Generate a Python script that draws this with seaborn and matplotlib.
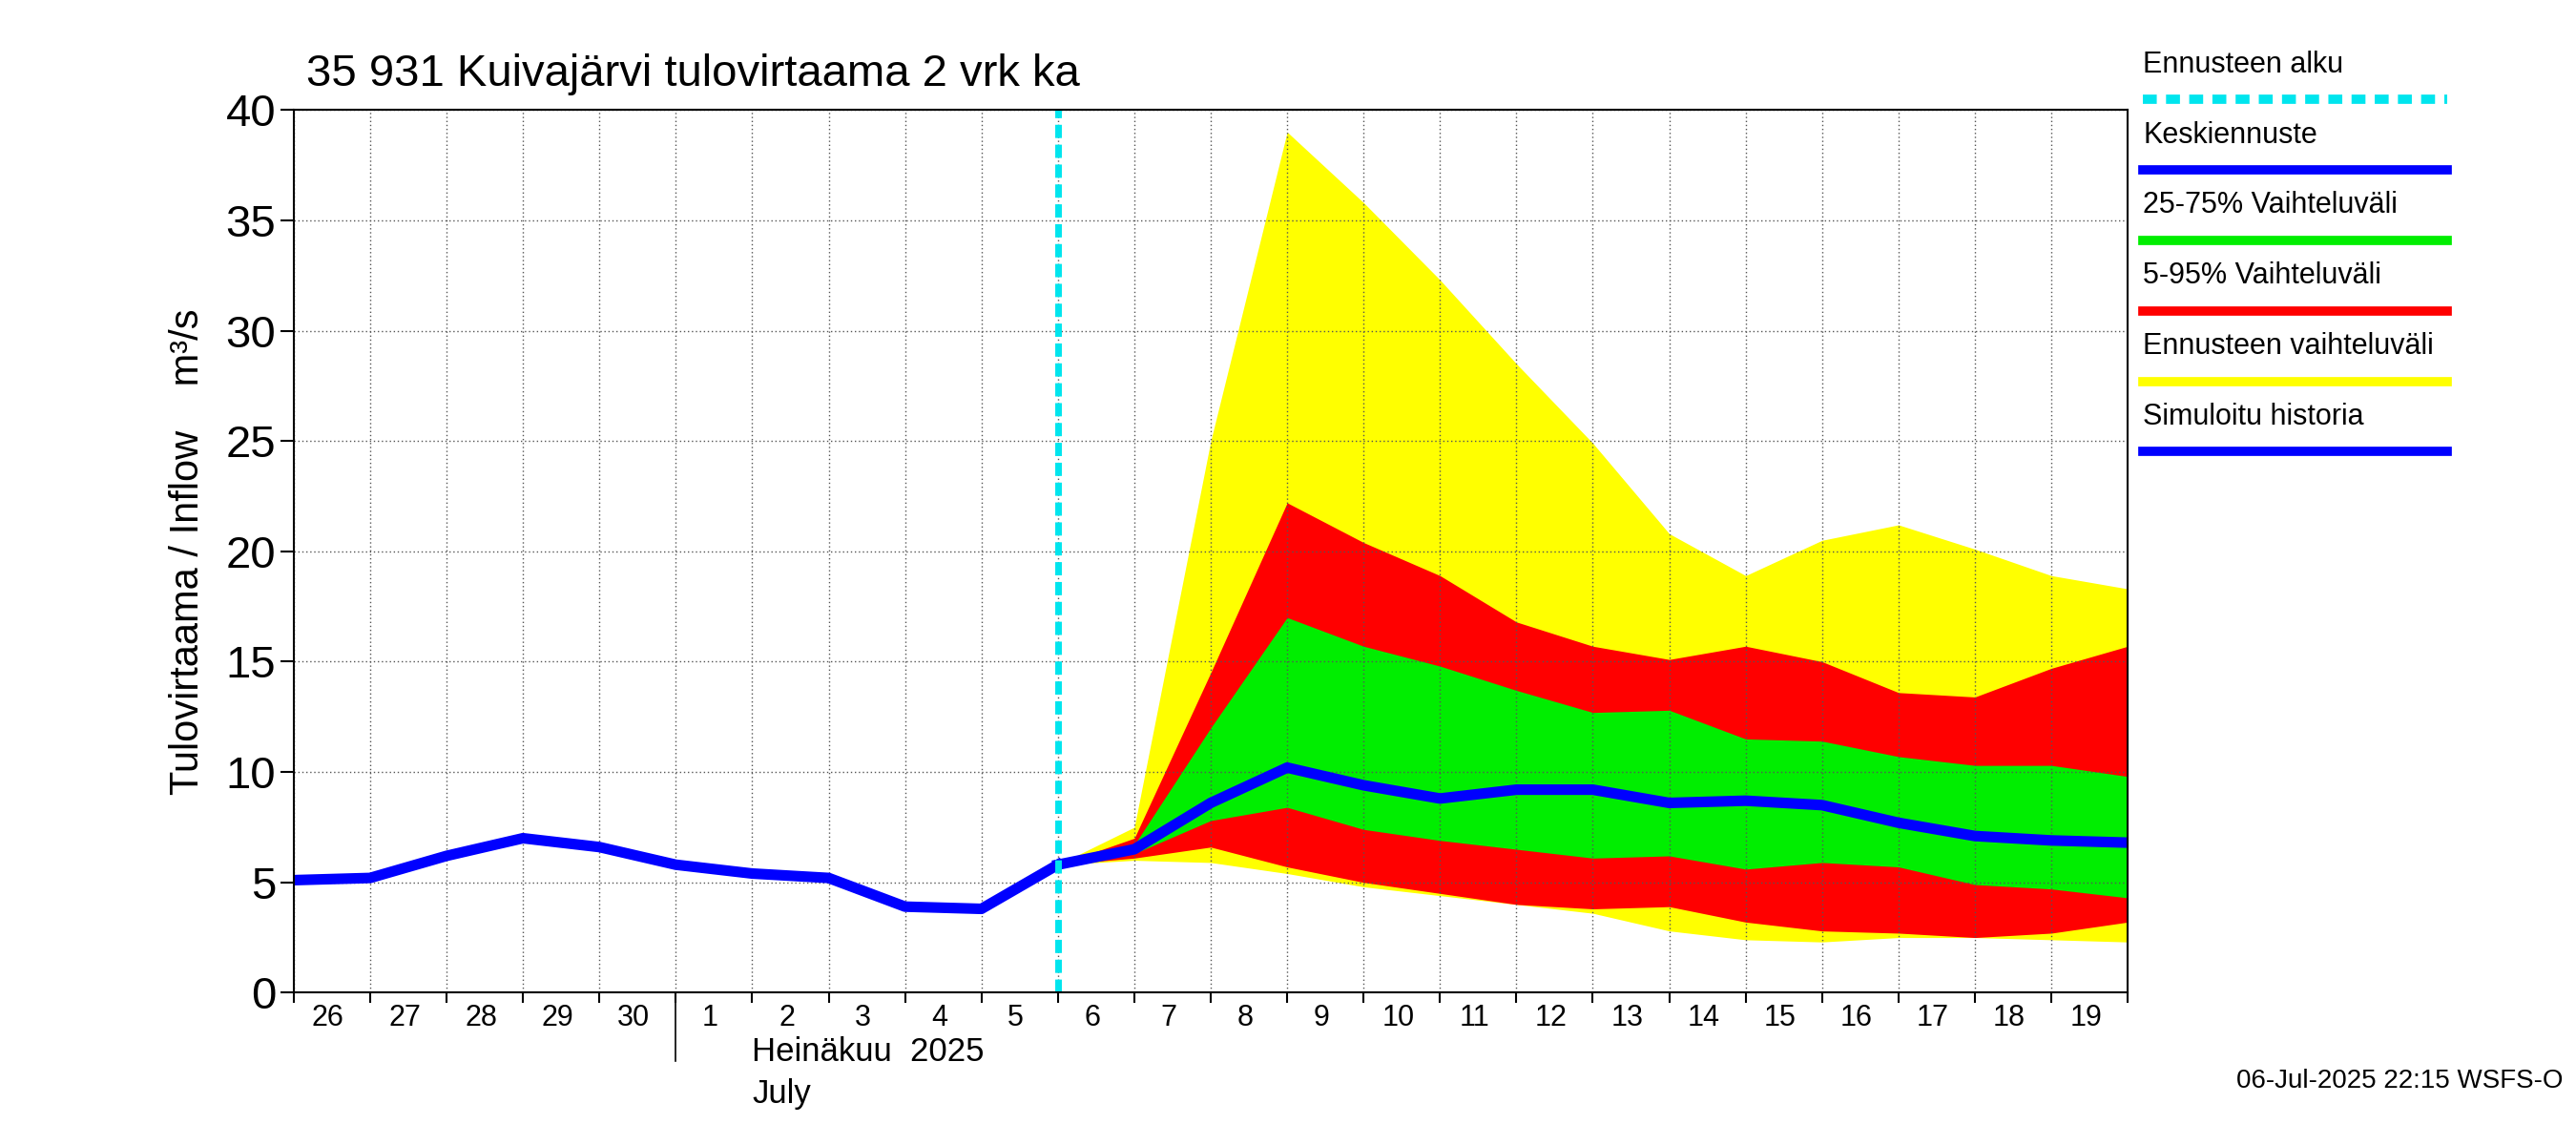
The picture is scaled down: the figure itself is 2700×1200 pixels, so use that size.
import matplotlib
matplotlib.use("Agg")
import matplotlib.pyplot as plt
import seaborn as sns

plt.rcParams["font.family"] = "Liberation Sans"

days = ["26","27","28","29","30","1","2","3","4","5","6","7","8","9","10","11","12","13","14","15","16","17","18","19"]
hist_x = list(range(0, 11))
hist_y = [5.1, 5.2, 6.2, 7.0, 6.6, 5.8, 5.4, 5.2, 3.9, 3.8, 5.8]
fc_x = list(range(10, 25))
median = [5.8, 6.5, 8.6, 10.2, 9.4, 8.8, 9.2, 9.2, 8.6, 8.7, 8.5, 7.7, 7.1, 6.9, 6.8]
yel_hi = [5.8, 7.5, 25, 39, 35.8, 32.3, 28.5, 24.9, 20.8, 18.9, 20.5, 21.2, 20.1, 18.9, 18.3]
yel_lo = [5.8, 6.0, 5.9, 5.4, 4.8, 4.4, 4.0, 3.6, 2.8, 2.4, 2.3, 2.5, 2.5, 2.4, 2.3]
red_hi = [5.8, 7.0, 14.5, 22.2, 20.4, 18.9, 16.8, 15.7, 15.1, 15.7, 15.0, 13.6, 13.4, 14.7, 15.7]
red_lo = [5.8, 6.1, 6.6, 5.7, 5.0, 4.5, 4.0, 3.8, 3.9, 3.2, 2.8, 2.7, 2.5, 2.7, 3.2]
grn_hi = [5.8, 6.7, 12.0, 17.0, 15.7, 14.8, 13.7, 12.7, 12.8, 11.5, 11.4, 10.7, 10.3, 10.3, 9.8]
grn_lo = [5.8, 6.3, 7.8, 8.4, 7.4, 6.9, 6.5, 6.1, 6.2, 5.6, 5.9, 5.7, 4.9, 4.7, 4.3]
forecast_start = 10

fig = plt.figure(figsize=(27, 12), dpi=100)
ax = fig.add_axes([0.114, 0.133, 0.712, 0.771])
ax.fill_between(fc_x, yel_lo, yel_hi, color="#ffff00", lw=0)
ax.fill_between(fc_x, red_lo, red_hi, color="#ff0000", lw=0)
ax.fill_between(fc_x, grn_lo, grn_hi, color="#00ee00", lw=0)
sns.lineplot(x=hist_x, y=hist_y, ax=ax, color="#0000ff", lw=8)
sns.lineplot(x=fc_x, y=median, ax=ax, color="#0000ff", lw=8)
ax.axvline(forecast_start, color="#00e5ee", lw=5, ls=(0, (2, 1)))
ax.set_xlim(0, 24)
ax.set_ylim(0, 40)
ax.set_yticks(range(0, 41, 5))
ax.set_xticks(range(0, 25))
ax.set_xticklabels([])
for i, d in enumerate(days):
    ax.text(i + 0.45, -0.5, d, ha="center", va="top", fontsize=22)
ax.tick_params(axis="y", labelsize=34, length=10, width=1.5)
ax.tick_params(axis="x", length=8, width=1.5)
ax.grid(True, color="#555555", ls=(0, (1, 2)), lw=1)
for s in ax.spines.values():
    s.set_linewidth(1.5)
ax.plot([5, 5], [0, -3.1], color="black", lw=1.2, clip_on=False)
ax.text(6.0, -2.7, "Heinäkuu  2025", fontsize=25, va="center")
ax.text(6.0, -4.6, "July", fontsize=25, va="center")
ax.set_ylabel("Tulovirtaama / Inflow    m³/s", fontsize=30, labelpad=14)
fig.text(0.119, 0.925, "35 931 Kuivajärvi tulovirtaama 2 vrk ka", fontsize=34)

items = [("Ennusteen alku", "#00e5ee", True), ("Keskiennuste", "#0000ff", False),
         ("25-75% Vaihteluväli", "#00ee00", False), ("5-95% Vaihteluväli", "#ff0000", False),
         ("Ennusteen vaihteluväli", "#ffff00", False), ("Simuloitu historia", "#0000ff", False)]
y0 = 0.925
for k, (lab, col, dash) in enumerate(items):
    y = y0 - k * 0.0615
    fig.text(0.832, y + 0.006, lab, fontsize=22, va="bottom")
    fig.add_artist(plt.Line2D([0.832, 0.95], [y - 0.012, y - 0.012], color=col, lw=7,
                              ls=(0, (1.5, 1)) if dash else "-", transform=fig.transFigure))
fig.text(0.995, 0.05, "06-Jul-2025 22:15 WSFS-O", fontsize=20, ha="right")
fig.savefig("out.png", dpi=100)
